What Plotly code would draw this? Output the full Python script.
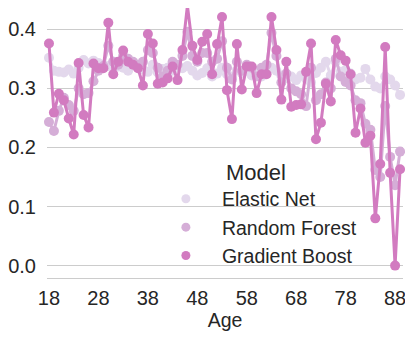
import plotly.graph_objects as go

ages = list(range(18, 90))

elastic_net = [0.352, 0.330, 0.328, 0.327, 0.332, 0.325, 0.335, 0.348, 0.342, 0.347,
               0.343, 0.340, 0.338, 0.345, 0.337, 0.335, 0.330, 0.340, 0.336, 0.332,
               0.328, 0.340, 0.327, 0.333, 0.335, 0.330, 0.337, 0.334, 0.338, 0.330,
               0.322, 0.326, 0.334, 0.320, 0.325, 0.335, 0.324, 0.320, 0.331, 0.326,
               0.330, 0.322, 0.328, 0.320, 0.327, 0.335, 0.330, 0.322, 0.318, 0.320,
               0.314, 0.322, 0.316, 0.310, 0.326, 0.335, 0.345, 0.322, 0.345, 0.328,
               0.331, 0.325, 0.315, 0.318, 0.333, 0.315, 0.303, 0.300, 0.320, 0.315,
               0.305, 0.289]

random_forest = [0.243, 0.228, 0.262, 0.284, 0.272, 0.262, 0.300, 0.290, 0.292, 0.312,
                 0.330, 0.338, 0.372, 0.345, 0.340, 0.355, 0.350, 0.345, 0.340, 0.345,
                 0.365, 0.360, 0.335, 0.320, 0.330, 0.345, 0.340, 0.355, 0.396, 0.355,
                 0.345, 0.360, 0.360, 0.345, 0.350, 0.380, 0.335, 0.315, 0.345, 0.330,
                 0.340, 0.335, 0.320, 0.335, 0.340, 0.394, 0.355, 0.310, 0.325, 0.300,
                 0.295, 0.290, 0.270, 0.335, 0.280, 0.290, 0.310, 0.300, 0.350, 0.320,
                 0.311, 0.305, 0.280, 0.275, 0.240, 0.230, 0.162, 0.150, 0.270, 0.184,
                 0.136, 0.193]

gradient_boost = [0.376, 0.259, 0.291, 0.280, 0.249, 0.222, 0.343, 0.255, 0.234, 0.342,
                  0.334, 0.334, 0.411, 0.324, 0.345, 0.364, 0.345, 0.340, 0.334, 0.305,
                  0.392, 0.376, 0.308, 0.310, 0.317, 0.337, 0.314, 0.365, 0.440, 0.372,
                  0.348, 0.379, 0.392, 0.324, 0.375, 0.421, 0.297, 0.248, 0.375, 0.298,
                  0.337, 0.337, 0.292, 0.324, 0.324, 0.421, 0.365, 0.281, 0.345, 0.269,
                  0.272, 0.273, 0.328, 0.376, 0.214, 0.242, 0.308, 0.278, 0.382, 0.356,
                  0.347, 0.324, 0.225, 0.266, 0.208, 0.220, 0.080, 0.172, 0.370, 0.157,
                  0.000, 0.163]

series_names = ["Elastic Net", "Random Forest", "Gradient Boost"]
series_values = [elastic_net, random_forest, gradient_boost]
colors = ["#e3d8ec", "#d5aed7", "#d27bc0"]

x_ticks = [18, 28, 38, 48, 58, 68, 78, 88]
y_ticks = [0.0, 0.1, 0.2, 0.3, 0.4]

fig = go.Figure()
for name, vals, col in zip(series_names, series_values, colors):
    fig.add_trace(go.Scatter(
        x=ages, y=vals, mode="lines+markers", name=name, showlegend=False,
        line=dict(color=col, width=3),
        marker=dict(color=col, size=10),
        cliponaxis=False,
    ))
for name, col in zip(series_names, colors):
    fig.add_trace(go.Scatter(
        x=[None], y=[None], mode="markers", name=name,
        marker=dict(color=col, size=9),
    ))

font_color = "#262626"
# the page body adds an 8px offset, so the figure is 8px smaller and margins shifted
fig.update_layout(
    width=405, height=331,
    margin=dict(l=39, r=10, t=0, b=61),
    paper_bgcolor="white", plot_bgcolor="white",
    font=dict(family="Liberation Sans, Arial, sans-serif", size=20, color=font_color),
    legend=dict(
        title=dict(text="Model", side="top center", font=dict(size=22)),
        x=0.289, y=1.0 - 143 / 270, xanchor="left", yanchor="top",
        bgcolor="rgba(0,0,0,0)", borderwidth=0,
        font=dict(size=19.5), itemwidth=62,
    ),
    xaxis=dict(
        range=[17.6, 89.6], tickvals=x_ticks, showgrid=False, zeroline=False,
        showline=True, linecolor="#cccccc", linewidth=1,
        ticks="", ticklabelstandoff=2,
        title=dict(text="Age", standoff=2, font=dict(size=19.5)),
    ),
    yaxis=dict(
        range=[-0.021, 0.4361], tickvals=y_ticks, tickformat=".1f",
        showgrid=True, gridcolor="#cccccc", gridwidth=1, zeroline=False,
        showline=False, ticks="", ticklabelstandoff=10,
    ),
)

fig.write_html("out.html")
